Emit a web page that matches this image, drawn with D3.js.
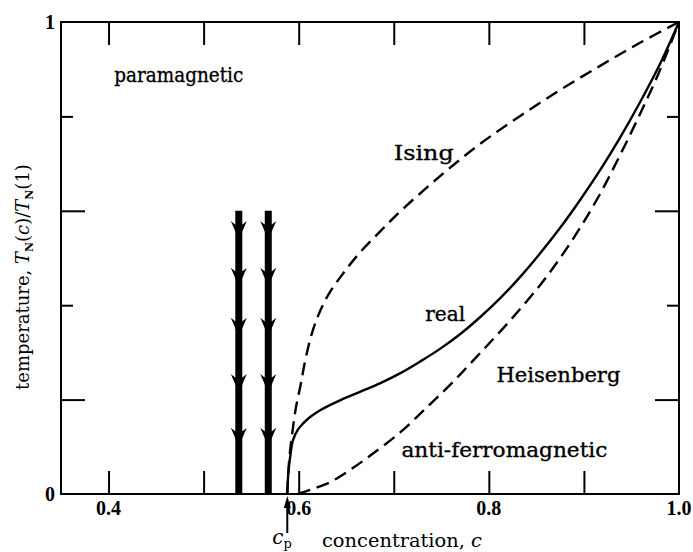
<!DOCTYPE html>
<html>
<head>
<meta charset="utf-8">
<script src="https://cdnjs.cloudflare.com/ajax/libs/d3/7.8.5/d3.min.js"></script>
<style>
  html, body { margin: 0; padding: 0; background: #fff; }
  svg { display: block; }
  text { font-family: "DejaVu Serif", "Liberation Serif", serif; fill: #000; }
  .num { font-family: "Liberation Serif", serif; font-weight: bold; font-size: 20px; }
  .lab { stroke: #000; stroke-width: 0.35px; }
</style>
</head>
<body>
<svg id="chart" width="693" height="552"></svg>
<script>
// Phase diagram of a diluted antiferromagnet: Néel temperature vs concentration

// Axis ticks and labels
const concentrationTicks = [0.4, 0.5, 0.6, 0.7, 0.8, 0.9];
const concentrationLabels = [0.4, 0.6, 0.8, 1.0];
const temperatureTicks = [0.2, 0.4, 0.6, 0.8];
const temperatureLabels = [0, 1];

// Percolation concentration
const cp = 0.588;

// Ising model curve (c, T_N(c)/T_N(1))
const ising = [
  [0.588, 0.000], [0.590, 0.072], [0.593, 0.125], [0.597, 0.182], [0.602, 0.231],
  [0.607, 0.284], [0.614, 0.341], [0.623, 0.390], [0.633, 0.428], [0.647, 0.468],
  [0.665, 0.513], [0.686, 0.557], [0.707, 0.599], [0.749, 0.674], [0.791, 0.742],
  [0.833, 0.801], [0.875, 0.856], [0.917, 0.907], [0.959, 0.956], [1.000, 1.000]
];

// Measured ("real") curve
const real = [
  [0.588, 0.000], [0.589, 0.042], [0.591, 0.078], [0.594, 0.114], [0.599, 0.136],
  [0.605, 0.150], [0.612, 0.163], [0.623, 0.178], [0.644, 0.199], [0.665, 0.217],
  [0.686, 0.235], [0.707, 0.256], [0.728, 0.281], [0.749, 0.308], [0.770, 0.339],
  [0.791, 0.375], [0.812, 0.415], [0.833, 0.460], [0.854, 0.510], [0.875, 0.564],
  [0.896, 0.623], [0.917, 0.686], [0.938, 0.755], [0.959, 0.830], [0.980, 0.911],
  [1.000, 1.000]
];

// Heisenberg model curve
const heisenberg = [
  [0.599, 0.000], [0.615, 0.011], [0.633, 0.025], [0.651, 0.047], [0.675, 0.081],
  [0.707, 0.131], [0.735, 0.184], [0.763, 0.239], [0.791, 0.299], [0.823, 0.369],
  [0.854, 0.443], [0.875, 0.500], [0.896, 0.564], [0.917, 0.636], [0.938, 0.718],
  [0.959, 0.805], [0.980, 0.898], [1.000, 1.000]
];

// Cooling paths below c_p (vertical arrows)
const pathConcentrations = [0.537, 0.568];
const pathTop = 0.6;
const arrowheadLevels = [0.538, 0.439, 0.333, 0.214, 0.100];

// Region / curve labels
const labels = [
  { text: "paramagnetic", c: 0.406, t: 0.873, w: 129 },
  { text: "Ising", c: 0.700, t: 0.708, w: 60 },
  { text: "real", c: 0.733, t: 0.367, w: 40 },
  { text: "Heisenberg", c: 0.808, t: 0.237, w: 124 },
  { text: "anti-ferromagnetic", c: 0.708, t: 0.078, w: 206 }
];

const svg = d3.select("#chart");
const x = d3.scaleLinear().domain([0.35, 1.0]).range([61, 679]);
const y = d3.scaleLinear().domain([0, 1]).range([494, 22]);

const stroke = "#000";

// Frame
svg.append("rect")
  .attr("x", x(0.35)).attr("y", y(1))
  .attr("width", x(1) - x(0.35)).attr("height", y(0) - y(1))
  .attr("fill", "none").attr("stroke", stroke).attr("stroke-width", 2);

// Concentration ticks (bottom and top, pointing inward)
const bottomAxis = d3.axisBottom(x).tickValues(concentrationTicks).tickSizeInner(-23).tickSizeOuter(0).tickFormat("");
const topAxis = d3.axisTop(x).tickValues(concentrationTicks).tickSizeInner(-23).tickSizeOuter(0).tickFormat("");
svg.append("g").attr("transform", `translate(0,${y(0)})`).call(bottomAxis)
  .call(g => g.select(".domain").remove())
  .selectAll("line").attr("stroke", stroke).attr("stroke-width", 2);
svg.append("g").attr("transform", `translate(0,${y(1)})`).call(topAxis)
  .call(g => g.select(".domain").remove())
  .selectAll("line").attr("stroke", stroke).attr("stroke-width", 2);

// Temperature ticks (long at 0.2, 0.6; short at 0.4, 0.8)
const tickLen = t => (Math.round(t * 10) % 4 === 2) ? 24 : 12;
const leftAxis = d3.axisLeft(y).tickValues(temperatureTicks).tickSizeOuter(0).tickFormat("");
const rightAxis = d3.axisRight(y).tickValues(temperatureTicks).tickSizeOuter(0).tickFormat("");
svg.append("g").attr("transform", `translate(${x(0.35)},0)`).call(leftAxis)
  .call(g => g.select(".domain").remove())
  .selectAll(".tick line").attr("x2", d => tickLen(d)).attr("stroke", stroke).attr("stroke-width", 2);
svg.append("g").attr("transform", `translate(${x(1)},0)`).call(rightAxis)
  .call(g => g.select(".domain").remove())
  .selectAll(".tick line").attr("x2", d => -tickLen(d)).attr("stroke", stroke).attr("stroke-width", 2);

// Tick labels
svg.selectAll("text.xl").data(concentrationLabels).join("text")
  .attr("class", "num xl")
  .attr("x", d => x(d)).attr("y", 515)
  .attr("text-anchor", "middle")
  .text(d => d.toFixed(1));
svg.selectAll("text.yl").data(temperatureLabels).join("text")
  .attr("class", "num yl")
  .attr("x", 55).attr("y", d => y(d)).attr("dy", "0.36em")
  .attr("text-anchor", "end")
  .text(d => d);

// Curves
const line = d3.line().x(d => x(d[0])).y(d => y(d[1])).curve(d3.curveCatmullRom.alpha(0.5));
svg.append("path").datum(ising).attr("d", line)
  .attr("fill", "none").attr("stroke", stroke).attr("stroke-width", 2.4)
  .attr("stroke-dasharray", "13,7");
svg.append("path").datum(heisenberg).attr("d", line)
  .attr("fill", "none").attr("stroke", stroke).attr("stroke-width", 2.4)
  .attr("stroke-dasharray", "13,7");
svg.append("path").datum(real).attr("d", line)
  .attr("fill", "none").attr("stroke", stroke).attr("stroke-width", 2.4);

// Thick vertical cooling paths with arrowheads
const head = "M0,3 Q-2.5,-8 -8,-19 Q-4,-15 0,-14 Q4,-15 8,-19 Q2.5,-8 0,3 Z";
const paths = svg.selectAll("g.cool").data(pathConcentrations).join("g").attr("class", "cool");
paths.append("line")
  .attr("x1", d => x(d)).attr("x2", d => x(d))
  .attr("y1", y(pathTop)).attr("y2", y(0))
  .attr("stroke", stroke).attr("stroke-width", 7);
paths.each(function (c) {
  d3.select(this).selectAll("path").data(arrowheadLevels).join("path")
    .attr("d", head)
    .attr("transform", t => `translate(${x(c)},${y(t)})`)
    .attr("fill", stroke);
});

// c_p marker below the axis
svg.append("line")
  .attr("x1", x(cp)).attr("x2", x(cp))
  .attr("y1", y(0) + 10).attr("y2", y(0) + 39)
  .attr("stroke", stroke).attr("stroke-width", 2);
svg.append("path")
  .attr("d", `M${x(cp)},${y(0) + 2} L${x(cp) - 3.5},${y(0) + 14} L${x(cp) + 3.5},${y(0) + 14} Z`)
  .attr("fill", stroke);
const cpLabel = svg.append("text").attr("x", x(cp) - 15).attr("y", 544).style("font-size", "20px");
cpLabel.append("tspan").style("font-style", "italic").text("c");
cpLabel.append("tspan").attr("dy", 4).style("font-size", "13px").text("p");

// Region / curve labels
svg.selectAll("text.lab").data(labels).join("text")
  .attr("class", "lab")
  .attr("x", d => x(d.c)).attr("y", d => y(d.t))
  .attr("textLength", d => d.w).attr("lengthAdjust", "spacingAndGlyphs")
  .style("font-size", "21px")
  .text(d => d.text);

// Axis titles
const xt = svg.append("text").attr("x", 322).attr("y", 547)
  .attr("textLength", 160).attr("lengthAdjust", "spacingAndGlyphs")
  .style("font-size", "19px");
xt.append("tspan").text("concentration, ");
xt.append("tspan").style("font-style", "italic").text("c");

const yt = svg.append("text")
  .attr("transform", "translate(29,390) rotate(-90)")
  .style("font-size", "18px");
yt.append("tspan").text("temperature, ");
yt.append("tspan").style("font-style", "italic").text("T");
yt.append("tspan").attr("dy", 4).style("font-size", "11px").style("font-weight", "bold").text("N");
yt.append("tspan").attr("dy", -4).text("(");
yt.append("tspan").style("font-style", "italic").text("c");
yt.append("tspan").text(")/");
yt.append("tspan").style("font-style", "italic").text("T");
yt.append("tspan").attr("dy", 4).style("font-size", "11px").style("font-weight", "bold").text("N");
yt.append("tspan").attr("dy", -4).text("(1)");
</script>
</body>
</html>
